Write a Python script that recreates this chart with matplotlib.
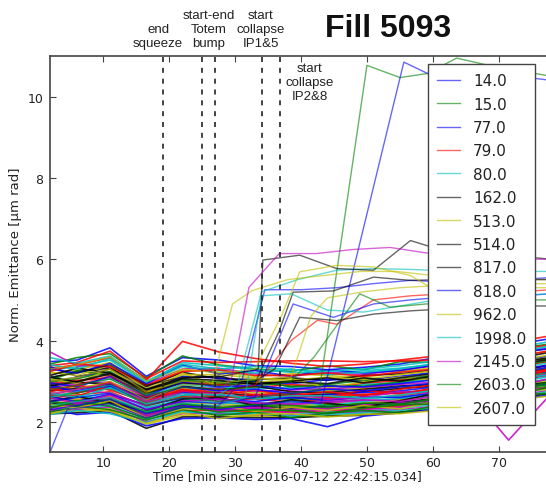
import matplotlib
matplotlib.use('Agg')
import matplotlib.pyplot as plt

# sample times [min] shared by the bulk of the bunches
times = [1.9, 6.0, 11.0, 16.5, 22.0, 27.5, 33.0, 38.5, 44.0, 49.5, 55.0, 60.5, 66.0, 71.5, 78.0]

# emittance of the bulk (unlabelled bunches)
bulk = [
    [3.48, 3.52, 3.82, 3.12, 3.58, 3.52, 3.38, 3.36, 3.28, 3.34, 3.42, 3.58, 3.72, 3.88, 4.05],
    [3.42, 3.58, 3.68, 3.08, 3.62, 3.40, 3.30, 3.24, 3.38, 3.28, 3.48, 3.46, 3.66, 3.78, 3.92],
    [3.32, 3.40, 3.58, 3.02, 3.98, 3.72, 3.56, 3.44, 3.36, 3.42, 3.52, 3.62, 3.78, 3.94, 4.12],
    [3.26, 3.36, 3.52, 2.96, 3.46, 3.38, 3.28, 3.22, 3.18, 3.26, 3.32, 3.42, 3.58, 3.68, 3.86],
    [3.72, 3.38, 3.34, 2.92, 3.30, 3.32, 3.18, 3.12, 3.22, 3.16, 3.28, 3.38, 3.52, 3.64, 3.82],
    [3.18, 3.28, 3.46, 2.88, 3.28, 3.22, 3.12, 3.18, 3.14, 3.08, 3.24, 3.34, 3.44, 3.62, 3.74],
    [3.08, 3.24, 3.32, 2.86, 3.22, 3.06, 3.04, 3.08, 3.02, 3.14, 3.18, 3.28, 3.42, 3.52, 3.72],
    [3.36, 3.12, 3.22, 2.78, 3.12, 3.08, 2.98, 2.94, 3.04, 3.02, 3.12, 3.22, 3.34, 3.48, 3.62],
    [2.98, 3.06, 3.24, 2.72, 3.04, 2.94, 2.96, 2.88, 2.92, 3.02, 3.04, 3.16, 3.28, 3.42, 3.56],
    [2.94, 3.02, 3.08, 2.74, 2.96, 2.92, 2.84, 2.92, 2.86, 2.94, 3.02, 3.08, 3.22, 3.36, 3.48],
    [3.12, 2.92, 3.06, 2.62, 2.92, 2.84, 2.82, 2.84, 2.78, 2.92, 2.96, 3.06, 3.14, 3.28, 3.46],
    [2.84, 2.94, 2.98, 2.62, 2.84, 2.82, 2.74, 2.78, 2.82, 2.84, 2.92, 2.98, 3.12, 3.24, 3.38],
    [2.78, 2.84, 2.96, 2.54, 2.82, 2.72, 2.72, 2.68, 2.76, 2.82, 2.84, 2.96, 3.04, 3.22, 3.34],
    [2.76, 2.82, 2.88, 2.58, 2.74, 2.72, 2.64, 2.66, 2.68, 2.74, 2.82, 2.88, 3.02, 3.14, 3.32],
    [2.92, 2.72, 2.86, 2.48, 2.72, 2.64, 2.62, 2.58, 2.66, 2.72, 2.76, 2.86, 2.94, 3.12, 3.24],
    [2.64, 2.72, 2.82, 2.46, 2.64, 2.62, 2.58, 2.56, 2.58, 2.66, 2.72, 2.78, 2.92, 3.04, 3.22],
    [2.58, 2.66, 2.74, 2.38, 2.62, 2.54, 2.56, 2.48, 2.56, 2.58, 2.64, 2.76, 2.84, 3.02, 3.14],
    [2.56, 2.58, 2.72, 2.36, 2.54, 2.52, 2.48, 2.46, 2.48, 2.56, 2.62, 2.68, 2.82, 2.94, 3.12],
    [2.72, 2.54, 2.64, 2.32, 2.52, 2.46, 2.46, 2.42, 2.46, 2.52, 2.56, 2.66, 2.76, 2.92, 3.04],
    [2.48, 2.56, 2.62, 2.28, 2.46, 2.44, 2.40, 2.38, 2.44, 2.46, 2.54, 2.62, 2.74, 2.86, 3.02],
    [2.44, 2.48, 2.58, 2.24, 2.42, 2.38, 2.38, 2.34, 2.38, 2.44, 2.48, 2.58, 2.68, 2.84, 2.96],
    [2.38, 2.46, 2.52, 2.22, 2.36, 2.36, 2.32, 2.32, 2.36, 2.38, 2.46, 2.54, 2.66, 2.78, 2.94],
    [2.36, 2.40, 2.48, 2.16, 2.34, 2.30, 2.28, 2.26, 2.32, 2.36, 2.40, 2.50, 2.60, 2.76, 2.88],
    [2.52, 2.36, 2.46, 2.12, 2.28, 2.28, 2.24, 2.24, 2.26, 2.32, 2.38, 2.46, 2.58, 2.70, 2.86],
    [2.30, 2.32, 2.40, 2.06, 2.24, 2.22, 2.22, 2.18, 2.24, 2.26, 2.34, 2.42, 2.52, 2.68, 2.82],
    [2.26, 2.30, 2.36, 2.00, 2.20, 2.20, 2.16, 2.16, 2.20, 2.24, 2.30, 2.38, 2.50, 2.62, 2.78],
    [2.22, 2.26, 2.32, 1.94, 2.16, 2.14, 2.14, 2.12, 2.16, 2.20, 2.26, 2.36, 2.46, 2.60, 2.74],
    [2.20, 2.22, 2.28, 1.84, 2.12, 2.12, 2.10, 2.10, 2.14, 2.16, 2.24, 2.32, 2.44, 2.56, 2.70],
    [2.32, 2.18, 2.24, 1.90, 2.08, 2.10, 2.06, 2.08, 1.88, 2.14, 2.22, 2.30, 2.40, 2.54, 2.66],
    [3.02, 3.26, 3.14, 2.68, 3.00, 2.98, 3.02, 2.86, 2.90, 2.88, 2.98, 3.12, 3.18, 3.32, 3.52],
    [2.68, 2.62, 2.92, 2.52, 2.78, 2.58, 2.68, 2.62, 2.62, 2.68, 2.70, 2.82, 2.98, 3.08, 3.28],
    [2.46, 2.64, 2.56, 2.34, 2.50, 2.48, 2.42, 2.52, 2.40, 2.50, 2.58, 2.64, 2.78, 2.90, 3.06],
    [2.28, 2.42, 2.54, 2.14, 2.40, 2.26, 2.34, 2.22, 2.30, 2.30, 2.36, 2.48, 2.56, 2.72, 2.84],
    [3.22, 3.14, 3.40, 2.82, 3.16, 3.16, 3.08, 3.02, 3.10, 3.04, 3.16, 3.26, 3.38, 3.46, 3.66],
    [2.88, 2.98, 2.92, 2.58, 2.88, 2.78, 2.88, 2.74, 2.72, 2.80, 2.88, 2.92, 3.08, 3.18, 3.42],
    [2.62, 2.50, 2.68, 2.42, 2.58, 2.56, 2.50, 2.60, 2.52, 2.62, 2.60, 2.72, 2.88, 2.98, 3.18],
    [2.40, 2.52, 2.44, 2.20, 2.46, 2.32, 2.44, 2.30, 2.42, 2.40, 2.44, 2.56, 2.62, 2.80, 2.92],
    [3.38, 3.46, 3.74, 3.06, 3.50, 3.46, 3.48, 3.50, 3.50, 3.48, 3.50, 3.52, 3.62, 3.74, 3.90],
    [2.18, 2.28, 2.20, 1.98, 2.26, 2.18, 2.20, 2.14, 2.18, 2.22, 2.28, 2.34, 2.48, 2.58, 2.76],
    [2.34, 2.44, 2.60, 2.18, 2.40, 2.30, 2.36, 2.30, 2.34, 2.42, 2.46, 2.52, 2.60, 1.55, 2.70],
    [3.05, 2.95, 3.30, 2.70, 3.20, 2.88, 2.96, 3.06, 2.84, 2.98, 3.10, 3.02, 3.30, 3.40, 3.60],
    [2.50, 2.62, 2.48, 2.26, 2.56, 2.60, 2.40, 2.54, 2.46, 2.36, 2.52, 2.70, 2.64, 2.86, 2.98],
    [3.30, 3.20, 3.44, 2.94, 3.40, 3.18, 3.26, 3.12, 3.28, 3.20, 3.26, 3.40, 3.48, 3.70, 3.80],
    [2.24, 2.38, 2.30, 2.04, 2.30, 2.16, 2.24, 2.10, 2.22, 2.28, 2.22, 2.40, 2.44, 2.66, 2.70],
    [2.82, 2.70, 2.98, 2.44, 2.76, 2.80, 2.66, 2.72, 2.60, 2.78, 2.68, 2.84, 2.96, 3.00, 3.30],
    [3.58, 3.44, 3.62, 3.00, 3.42, 3.30, 3.36, 3.28, 3.24, 3.30, 3.38, 3.50, 3.60, 3.80, 3.98],
    [2.66, 2.80, 2.70, 2.40, 2.70, 2.50, 2.62, 2.70, 2.56, 2.60, 2.74, 2.70, 2.90, 2.96, 3.20],
    [2.42, 2.34, 2.52, 2.10, 2.32, 2.40, 2.26, 2.36, 2.28, 2.40, 2.32, 2.50, 2.54, 2.74, 2.80],
    [3.14, 3.32, 3.20, 2.80, 3.08, 3.12, 2.94, 3.00, 3.08, 2.96, 3.08, 3.20, 3.24, 3.44, 3.58],
    [2.96, 2.86, 3.12, 2.64, 2.98, 2.86, 2.90, 2.80, 2.88, 2.86, 2.94, 3.04, 3.16, 3.26, 3.40],
    [2.34, 2.50, 2.38, 2.08, 2.38, 2.24, 2.30, 2.28, 2.20, 2.34, 2.42, 2.44, 2.58, 2.64, 2.86],
    [2.74, 2.90, 2.78, 2.50, 2.80, 2.66, 2.78, 2.64, 2.74, 2.64, 2.80, 2.92, 2.94, 3.14, 3.30],
    [3.40, 3.30, 3.56, 2.98, 3.36, 3.26, 3.20, 3.30, 3.16, 3.22, 3.30, 3.44, 3.54, 3.66, 3.88],
    [2.58, 2.46, 2.66, 2.30, 2.50, 2.56, 2.46, 2.44, 2.50, 2.54, 2.50, 2.64, 2.72, 2.82, 3.08],
    [2.20, 2.34, 2.26, 1.96, 2.22, 2.08, 2.18, 2.20, 2.12, 2.18, 2.20, 2.28, 2.38, 2.52, 2.64],
    [3.10, 2.98, 3.18, 2.76, 3.06, 3.02, 2.92, 2.98, 2.94, 3.08, 3.00, 3.14, 3.26, 3.38, 3.54],
    [2.86, 2.76, 2.90, 2.56, 2.86, 2.76, 2.80, 2.70, 2.80, 2.76, 2.86, 2.96, 3.06, 3.16, 3.36],
    [2.50, 2.40, 2.56, 2.24, 2.44, 2.34, 2.42, 2.40, 2.36, 2.46, 2.44, 2.56, 2.70, 2.78, 2.98],
    [3.24, 3.42, 3.36, 2.90, 3.24, 3.28, 3.14, 3.14, 3.20, 3.12, 3.22, 3.30, 3.46, 3.56, 3.76],
    [2.70, 2.60, 2.84, 2.44, 2.66, 2.68, 2.56, 2.64, 2.64, 2.58, 2.66, 2.78, 2.86, 3.04, 3.16],
]

# bunches that blow up (these go in the legend)
blowup_labels = ['14.0', '15.0', '77.0', '79.0', '80.0', '162.0', '513.0', '514.0',
                 '817.0', '818.0', '962.0', '1998.0', '2145.0', '2603.0', '2607.0']
blowup_colors = ['b', 'g', 'b', 'r', 'c', 'k', 'y', 'k', 'k', 'b', 'y', 'c', 'm', 'g', 'y']
blowup_times = [
    [1.9, 4.5, 11.0, 16.5, 22.0, 27.5, 31.0, 34.5, 40.0, 45.5, 51.0, 56.6, 62.0, 67.5, 73.0, 78.0],
    [1.9, 6.0, 11.0, 16.5, 22.0, 27.5, 33.0, 38.5, 42.8, 50.0, 55.0, 59.2, 63.6, 69.0, 74.5, 78.0],
    [1.9, 6.0, 11.0, 16.5, 22.0, 27.5, 33.0, 38.5, 43.0, 55.6, 59.2, 64.5, 70.0, 75.5, 78.0],
    [1.9, 6.0, 11.0, 16.5, 22.0, 27.5, 33.0, 38.5, 42.5, 45.4, 51.0, 56.6, 62.0, 67.5, 73.0, 78.0],
    [1.9, 6.0, 11.0, 16.5, 22.0, 27.5, 30.5, 34.0, 39.5, 45.4, 51.0, 56.5, 59.6, 65.0, 71.0, 78.0],
    [1.9, 6.0, 11.0, 16.5, 22.0, 27.5, 33.0, 36.0, 39.8, 45.4, 51.0, 56.6, 62.0, 67.5, 73.0, 78.0],
    [1.9, 6.0, 11.0, 16.5, 22.0, 26.5, 29.6, 32.6, 38.0, 43.5, 49.0, 54.5, 60.0, 65.5, 71.0, 78.0],
    [1.9, 6.0, 11.0, 16.5, 22.0, 27.5, 33.0, 36.7, 38.8, 44.9, 51.0, 56.6, 62.0, 67.5, 73.0, 78.0],
    [1.9, 6.0, 11.0, 16.5, 22.0, 27.5, 33.5, 34.2, 39.8, 45.4, 51.0, 56.6, 59.6, 65.0, 71.0, 78.0],
    [1.9, 6.0, 11.0, 16.5, 22.0, 27.5, 33.0, 35.5, 38.8, 44.9, 51.0, 56.6, 62.0, 67.5, 73.0, 78.0],
    [1.9, 6.0, 11.0, 16.5, 22.0, 27.5, 33.0, 37.0, 39.8, 45.4, 51.0, 56.6, 59.6, 65.0, 71.0, 78.0],
    [1.9, 6.0, 11.0, 16.5, 22.0, 27.5, 31.5, 34.0, 38.5, 44.0, 49.5, 55.0, 60.5, 66.0, 71.5, 78.0],
    [1.9, 6.0, 11.0, 16.5, 22.0, 27.5, 29.5, 32.1, 36.7, 42.3, 47.9, 53.5, 59.6, 65.0, 71.0, 78.0],
    [1.9, 6.0, 11.0, 16.5, 22.0, 27.5, 33.0, 38.5, 42.0, 48.9, 53.5, 59.0, 64.5, 70.0, 75.5, 78.0],
    [1.9, 6.0, 11.0, 16.5, 22.0, 27.5, 33.0, 38.5, 41.5, 44.0, 49.5, 55.0, 60.5, 66.0, 71.5, 78.0],
]
blowup_values = [
    [1.25, 2.30, 2.45, 2.10, 2.35, 2.40, 3.00, 5.25, 5.25, 5.30, 5.40, 5.48, 5.44, 5.50, 5.50, 5.55],
    [2.60, 2.70, 2.95, 2.40, 2.60, 2.50, 2.60, 2.70, 2.80, 10.77, 10.47, 10.57, 10.95, 10.75, 10.60, 10.50],
    [2.30, 2.40, 2.55, 2.20, 2.40, 2.30, 2.40, 2.50, 2.45, 10.85, 10.57, 10.60, 10.50, 10.45, 10.40],
    [2.80, 2.90, 3.15, 2.60, 2.80, 2.70, 2.90, 4.00, 4.50, 4.40, 5.00, 5.10, 5.15, 5.20, 5.20, 5.25],
    [2.60, 2.75, 2.90, 2.50, 2.70, 2.65, 3.00, 5.20, 5.50, 5.73, 5.77, 5.75, 5.73, 5.70, 5.70, 5.70],
    [3.00, 3.10, 3.30, 2.80, 3.00, 2.95, 3.00, 3.30, 4.57, 4.49, 4.65, 4.73, 4.78, 4.80, 4.85, 4.85],
    [2.70, 2.80, 3.00, 2.55, 2.90, 2.92, 4.90, 5.23, 5.50, 5.60, 5.70, 5.70, 5.60, 5.60, 5.50, 5.50],
    [2.90, 3.00, 3.20, 2.70, 2.95, 2.90, 2.95, 4.24, 5.19, 5.22, 5.56, 5.48, 5.50, 5.45, 5.50, 5.50],
    [3.10, 3.20, 3.40, 2.90, 3.10, 3.10, 3.30, 5.98, 6.10, 5.77, 5.73, 6.46, 6.31, 6.20, 6.10, 6.00],
    [2.50, 2.60, 2.70, 2.30, 2.50, 2.45, 2.60, 3.60, 4.90, 4.57, 4.90, 5.00, 5.07, 5.10, 5.10, 5.15],
    [3.30, 3.40, 3.60, 3.00, 3.30, 3.20, 3.30, 4.60, 5.69, 5.85, 5.81, 5.60, 5.31, 5.30, 5.30, 5.30],
    [2.40, 2.50, 2.60, 2.25, 2.45, 2.40, 2.60, 5.10, 5.15, 4.75, 4.70, 4.85, 5.00, 5.10, 5.10, 5.15],
    [2.70, 2.80, 2.95, 2.50, 2.75, 2.70, 3.10, 5.31, 6.14, 6.14, 6.24, 6.29, 6.14, 6.10, 6.00, 6.00],
    [2.80, 2.90, 3.05, 2.65, 2.85, 2.80, 2.85, 3.00, 3.60, 5.15, 4.82, 4.90, 4.95, 5.00, 5.00, 5.00],
    [3.00, 3.10, 3.30, 2.75, 3.00, 2.95, 3.05, 3.10, 4.60, 5.05, 5.20, 5.30, 5.35, 5.40, 5.40, 5.40],
]

# beam process markers
event_times = [19.0, 25.0, 27.0, 34.0, 36.8]
event_text = ['end\nsqueeze', 'start-end\nTotem\nbump', 'start\ncollapse\nIP1&5', 'start\ncollapse\nIP2&8']
event_text_x = [18.3, 26.0, 33.9, 41.3]

cycle = ['b', 'g', 'r', 'c', 'm', 'y', 'k']
txt = '#222222'

fig = plt.figure(figsize=(5.46, 4.89), dpi=100)
ax = fig.add_axes([0.0916, 0.073, 0.9425, 0.8104])

for i, row in enumerate(bulk):
    ax.plot(times, row, color=cycle[i % 7], lw=1.2, alpha=0.85)

for t, v, c, lab in zip(blowup_times, blowup_values, blowup_colors, blowup_labels):
    ax.plot(t, v, color=c, lw=1.0, alpha=0.6, label=lab)

for t in event_times:
    ax.axvline(t, color='#222222', lw=1.2, dashes=(3, 3.5), zorder=3)

ax.set_xlim(1.9, 80)
ax.set_ylim(1.25, 11.0)
ax.set_xticks([10, 20, 30, 40, 50, 60, 70])
ax.set_yticks([2, 4, 6, 8, 10])
ax.tick_params(direction='in', top=True, right=True, length=4, width=0.8,
               labelsize=9, labelcolor=txt, color='#444444')
ax.tick_params(axis='x', pad=2.5)
ax.tick_params(axis='y', pad=5)
for s in ax.spines.values():
    s.set_color('#444444')
    s.set_linewidth(1.2)

ax.set_xlabel('Time [min since 2016-07-12 22:42:15.034]', fontsize=9, color=txt)
ax.xaxis.set_label_coords(0.4606, -0.042)
ax.set_ylabel('Norm. Emittance [\u03bcm rad]', fontsize=9.5, color=txt)

# marker labels: first three above the frame, the last one inside
for x, s in zip(event_text_x[:3], event_text[:3]):
    ax.text(x, 1.018, s, transform=ax.get_xaxis_transform(), ha='center', va='bottom',
            multialignment='center', fontsize=9.5, linespacing=1.2, color=txt,
            family='Liberation Sans')
ax.text(event_text_x[3], 0.985, event_text[3], transform=ax.get_xaxis_transform(),
        ha='center', va='top', multialignment='center', fontsize=9.5, linespacing=1.2,
        color=txt, family='Liberation Sans')

fig.text(388 / 546, 1 - 37 / 489, 'Fill 5093', ha='center', va='baseline',
         fontsize=23, fontweight='bold', family='Liberation Sans', color='#111111')

leg = ax.legend(loc='upper left', bbox_to_anchor=(428 / 546, 1 - 65 / 489),
                bbox_transform=fig.transFigure, borderaxespad=0, fontsize=11,
                labelspacing=0.55, handlelength=1.5, handletextpad=0.85,
                borderpad=0.6, fancybox=False, framealpha=1.0, edgecolor='#444444')
leg.get_frame().set_linewidth(1.0)
for t in leg.get_texts():
    t.set_color(txt)
leg.set_zorder(5)

fig.savefig('out.png', dpi=100)
